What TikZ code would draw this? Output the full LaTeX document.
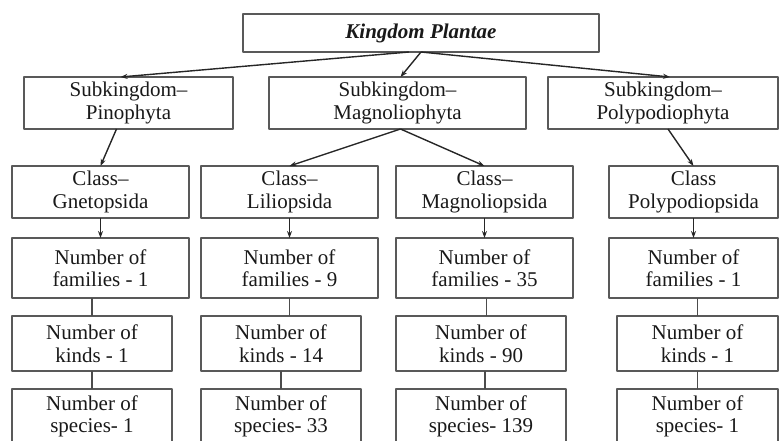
\documentclass[tikz,border=0pt]{standalone}
\usepackage{fontspec}
\setmainfont{Liberation Serif}
\usetikzlibrary{arrows.meta}
\begin{document}
\begin{tikzpicture}[x=1pt, y=-1pt, line join=round, >={Stealth[length=7pt,width=5pt]},
    font=\fontsize{21}{22.5}\selectfont,
    box/.style={draw=black!65, line width=1.5pt, text=black!90, align=center,
      inner sep=0pt, outer sep=0pt},
    arr/.style={->, line width=1.4pt, black!85},
    lnk/.style={line width=1.3pt, black!70}]
  \useasboundingbox (0,0) rectangle (779,441);
  % kingdom and subkingdoms
  \node[box, minimum width=356pt, minimum height=38pt] (kp) at (421,33) {\textbf{\textit{Kingdom Plantae}}};
  \node[box, minimum width=209pt, minimum height=52pt] (subPino) at (128.5,103) {Subkingdom–\\Pinophyta};
  \node[box, minimum width=257pt, minimum height=52pt] (subMagno) at (397.5,103) {Subkingdom–\\Magnoliophyta};
  \node[box, minimum width=230pt, minimum height=52pt] (subPoly) at (663,103) {Subkingdom–\\Polypodiophyta};
  % classes with their counts
  \foreach \n/\cx/\cw/\kx/\kw/\ctxt/\f/\k/\s in {
      Gne/100.5/177/92/160/{Class–\\Gnetopsida}/1/1/1,
      Lil/289.5/177/281/160/{Class–\\Liliopsida}/9/14/33,
      Mag/484.5/177/481/170/{Class–\\Magnoliopsida}/35/90/139,
      Pol/693.5/169/697.5/161/{Class\\Polypodiopsida}/1/1/1}{
    \node[box, minimum width=\cw pt, minimum height=52pt] (cls\n) at (\cx,192) {\ctxt};
    \node[box, minimum width=\cw pt, minimum height=60pt] (fam\n) at (\cx,268) {Number of\\families - \f};
    \node[box, minimum width=\kw pt, minimum height=55pt] (kin\n) at (\kx,343.5) {Number of\\kinds - \k};
    \node[box, minimum width=\kw pt, minimum height=55pt] (spe\n) at (\kx,416.5) {Number of\\species- \s};
    \draw[arr] (cls\n.south) -- (fam\n.north);
  }
  % connectors
  \draw[arr] ([xshift=-12pt]kp.south) -- ([xshift=-8pt]subPino.north);
  \draw[arr] (kp.south) -- ([xshift=3pt]subMagno.north);
  \draw[arr] (kp.south) -- ([xshift=7pt]subPoly.north);
  \draw[arr] ([xshift=-12pt]subPino.south) -- (clsGne.north);
  \draw[arr] ([xshift=3pt]subMagno.south) -- (clsLil.north);
  \draw[arr] ([xshift=3pt]subMagno.south) -- (clsMag.north);
  \draw[arr] ([xshift=5pt]subPoly.south) -- (clsPol.north);
  \draw[lnk] (kinGne.north |- famGne.south) -- (kinGne.north);
  \draw[lnk] (famLil.south) -- (famLil.south |- kinLil.north);
  \draw[lnk] ([xshift=2pt]famMag.south) -- ([xshift=2pt]famMag.south |- kinMag.north);
  \draw[lnk] (kinPol.north |- famPol.south) -- (kinPol.north);
  \foreach \n in {Gne,Lil,Pol}
    \draw[lnk] (kin\n.south) -- (spe\n.north);
  \draw[lnk] ([xshift=4pt]kinMag.south) -- ([xshift=4pt]speMag.north);
\end{tikzpicture}
\end{document}
